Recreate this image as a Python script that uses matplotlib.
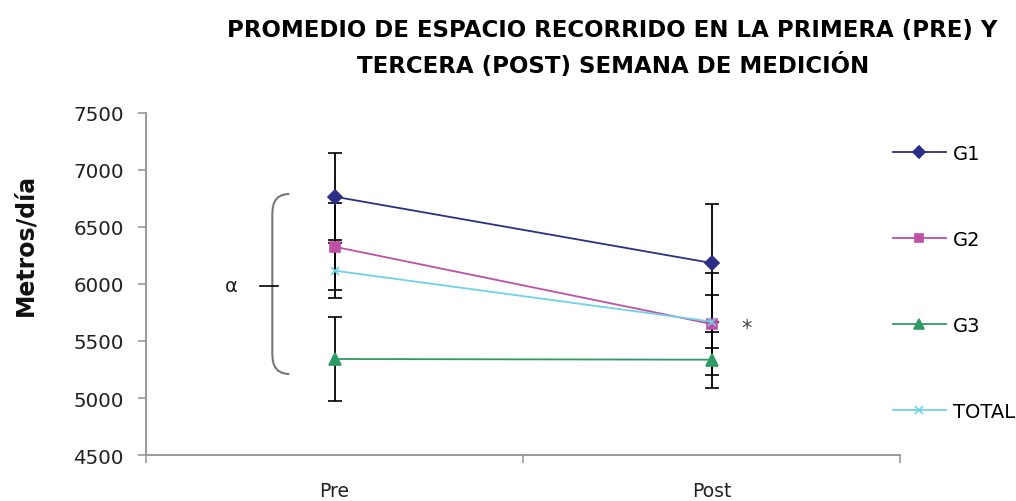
import matplotlib
matplotlib.use("Agg")
import matplotlib.pyplot as plt
from matplotlib.path import Path
from matplotlib.patches import PathPatch
from matplotlib.lines import Line2D
import numpy as np

categories = ["Pre", "Post"]
series_names = ["G1", "G2", "G3", "TOTAL"]
g1 = [6766, 6184]
g2 = [6327, 5649]
g3 = [5342, 5336]
total = [6117, 5670]
g1_err = [383, 518]
g2_err = [380, 450]
g3_err = [365, 245]
total_err = [240, 230]
y_ticks = [4500, 5000, 5500, 6000, 6500, 7000, 7500]

values = [g1, g2, g3, total]
errors = [g1_err, g2_err, g3_err, total_err]
colors = ["#2b2f86", "#c04fa6", "#2f9a66", "#6fd3e8"]
markers = ["D", "s", "^", "x"]
msizes = [7, 7.5, 8, 6]

fig = plt.figure(figsize=(10.16, 5.02), dpi=100)
ax = fig.add_axes([0.1437, 0.0916, 0.886 - 0.1437, 0.773 - 0.0916])

x = np.arange(len(categories))
handles = []
for vals, errs, c, m, ms, name in zip(values, errors, colors, markers, msizes, series_names):
    ax.errorbar(x, vals, yerr=errs, color=c, ecolor="black", elinewidth=1.3,
                capsize=4.8, capthick=1.3, lw=1.3, marker=m, ms=ms,
                mec=c, mfc=c, mew=1.2, zorder=3)
    handles.append(Line2D([], [], color=c, lw=1.3, marker=m, ms=ms * 0.85,
                          mec=c, mfc=c, mew=1.2, label=name))

ax.set_xlim(-0.5, 1.5)
ax.set_ylim(4500, 7500)
ax.set_yticks(y_ticks)
ax.set_yticklabels([str(v) for v in y_ticks], fontsize=14.3, color="#222222")
ax.set_xticks([-0.5, 0.5, 1.5])
ax.set_xticklabels([])
ax.set_xticks(x, minor=True)
ax.set_xticklabels(categories, minor=True, fontsize=13.5, color="#222222")
ax.tick_params(axis="x", which="minor", length=0, pad=19)
ax.tick_params(axis="x", which="major", length=6, direction="out", color="#999999", width=1.2)
ax.tick_params(axis="y", length=6, direction="out", color="#999999", width=1.2, pad=10)
for side in ["top", "right"]:
    ax.spines[side].set_visible(False)
for side in ["left", "bottom"]:
    ax.spines[side].set_color("#999999")
    ax.spines[side].set_linewidth(1.4)

fig.text(0.025, 0.512, "Metros/día", rotation=90, ha="center", va="center",
         fontsize=17, fontweight="bold", color="#111111")

# brace grouping the Pre values
xb, xr = -0.165, -0.12
y0, y1 = 5210, 6790
verts = [(xr, y1), (xb, y1 - 5), (xb, y1 - 120), (xb, y1 - 200),
         (xb, y0 + 200), (xb, y0 + 120), (xb, y0 + 5), (xr, y0)]
codes = [Path.MOVETO, Path.CURVE4, Path.CURVE4, Path.CURVE4,
         Path.LINETO, Path.CURVE4, Path.CURVE4, Path.CURVE4]
ax.add_patch(PathPatch(Path(verts, codes), fill=False, ec="#777777", lw=1.5))
ax.plot([-0.198, -0.15], [5985, 5985], color="black", lw=1.2)
ax.text(-0.275, 5985, "α", fontsize=14, ha="center", va="center", color="#222222")
ax.text(1.093, 5615, "*", fontsize=15, ha="center", va="center", color="#444444")

# legend
fig.legend(handles=handles, loc="upper left", bbox_to_anchor=(0.879, 0.712),
           frameon=False, fontsize=14, labelspacing=3.45, handlelength=2.7,
           handletextpad=0.36, borderaxespad=0, borderpad=0)

fig.text(0.603, 0.94, "PROMEDIO DE ESPACIO RECORRIDO EN LA PRIMERA (PRE) Y",
         ha="center", va="center", fontsize=16.5, fontweight="bold")
fig.text(0.603, 0.87, "TERCERA (POST) SEMANA DE MEDICIÓN",
         ha="center", va="center", fontsize=16.5, fontweight="bold")

fig.savefig("out.png", dpi=100)
